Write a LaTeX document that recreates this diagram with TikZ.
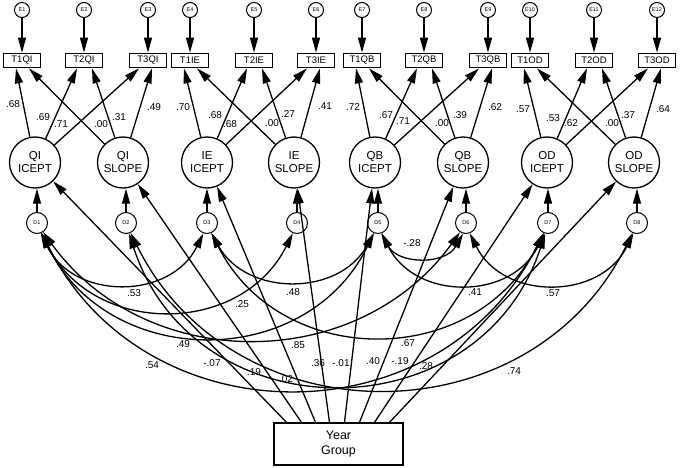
\documentclass[tikz,border=0pt]{standalone}
\usepackage{fontspec}
\setmainfont{Liberation Sans}
\usetikzlibrary{arrows.meta}
\begin{document}
\begin{tikzpicture}[x=1pt,y=1pt,
  err/.style={circle, draw, line width=1pt, minimum size=15pt, inner sep=0pt, font=\fontsize{5.5}{6}\selectfont},
  dist/.style={circle, draw, line width=1pt, minimum size=21pt, inner sep=0pt, font=\fontsize{5.5}{6}\selectfont},
  obs/.style={rectangle, draw, line width=1.3pt, minimum width=37pt, minimum height=14.5pt, inner sep=0pt, font=\fontsize{9.5}{10}\selectfont},
  lat/.style={circle, draw, line width=1.3pt, minimum size=51pt, inner sep=0pt, align=center, font=\fontsize{11.5}{13}\selectfont},
  yrbox/.style={rectangle, draw, line width=1.3pt, minimum width=129pt, minimum height=42pt, inner sep=0pt, align=center, font=\fontsize{12.5}{15}\selectfont},
  lbl/.style={inner sep=0pt, font=\fontsize{10}{12}\selectfont},
  tip/.tip={Triangle[length=15pt,width=8pt]},
  path/.style={-tip, line width=1.3pt},
  cov/.style={tip-tip, line width=1.3pt}]
\useasboundingbox (0,0) rectangle (680,-468);
% error terms
\foreach \n/\x in {1/22,2/84,3/148,4/190,5/254,6/316,7/362,8/424,9/488,10/530,11/594,12/657}
  \node[err] (e\n) at (\x,-10) {E\n};
% indicators
\node[obs] (t1qi) at (22,-60.5) {T1QI};
\node[obs] (t2qi) at (84,-60.5) {T2QI};
\node[obs] (t3qi) at (148,-60.5) {T3QI};
\node[obs] (t1ie) at (190,-60.5) {T1IE};
\node[obs] (t2ie) at (254,-60.5) {T2IE};
\node[obs] (t3ie) at (316,-60.5) {T3IE};
\node[obs] (t1qb) at (362,-60.5) {T1QB};
\node[obs] (t2qb) at (424,-60.5) {T2QB};
\node[obs] (t3qb) at (488,-60.5) {T3QB};
\node[obs] (t1od) at (530,-60.5) {T1OD};
\node[obs] (t2od) at (594,-60.5) {T2OD};
\node[obs] (t3od) at (657,-60.5) {T3OD};
\draw[path] (e1) -- (t1qi);
\draw[path] (e2) -- (t2qi);
\draw[path] (e3) -- (t3qi);
\draw[path] (e4) -- (t1ie);
\draw[path] (e5) -- (t2ie);
\draw[path] (e6) -- (t3ie);
\draw[path] (e7) -- (t1qb);
\draw[path] (e8) -- (t2qb);
\draw[path] (e9) -- (t3qb);
\draw[path] (e10) -- (t1od);
\draw[path] (e11) -- (t2od);
\draw[path] (e12) -- (t3od);
% latent growth factors
\node[lat] (qii) at (35,-162.5) {QI\\ICEPT};
\node[lat] (qis) at (123,-162.5) {QI\\SLOPE};
\node[lat] (iei) at (207,-162.5) {IE\\ICEPT};
\node[lat] (ies) at (294,-162.5) {IE\\SLOPE};
\node[lat] (qbi) at (375,-162.5) {QB\\ICEPT};
\node[lat] (qbs) at (463,-162.5) {QB\\SLOPE};
\node[lat] (odi) at (547,-162.5) {OD\\ICEPT};
\node[lat] (ods) at (634,-162.5) {OD\\SLOPE};
% loadings
\draw[path] (qii) -- ([xshift=-6pt]t1qi.south);
\draw[path] (qii) -- ([xshift=-7pt]t2qi.south);
\draw[path] (qii) -- ([xshift=-9pt]t3qi.south);
\draw[path] (qis) -- ([xshift=7pt]t1qi.south);
\draw[path] (qis) -- ([xshift=8pt]t2qi.south);
\draw[path] (qis) -- ([xshift=4pt]t3qi.south);
\draw[path] (iei) -- ([xshift=-6pt]t1ie.south);
\draw[path] (iei) -- ([xshift=-7pt]t2ie.south);
\draw[path] (iei) -- ([xshift=-9pt]t3ie.south);
\draw[path] (ies) -- ([xshift=7pt]t1ie.south);
\draw[path] (ies) -- ([xshift=8pt]t2ie.south);
\draw[path] (ies) -- ([xshift=4pt]t3ie.south);
\draw[path] (qbi) -- ([xshift=-6pt]t1qb.south);
\draw[path] (qbi) -- ([xshift=-7pt]t2qb.south);
\draw[path] (qbi) -- ([xshift=-9pt]t3qb.south);
\draw[path] (qbs) -- ([xshift=7pt]t1qb.south);
\draw[path] (qbs) -- ([xshift=8pt]t2qb.south);
\draw[path] (qbs) -- ([xshift=4pt]t3qb.south);
\draw[path] (odi) -- ([xshift=-6pt]t1od.south);
\draw[path] (odi) -- ([xshift=-7pt]t2od.south);
\draw[path] (odi) -- ([xshift=-9pt]t3od.south);
\draw[path] (ods) -- ([xshift=7pt]t1od.south);
\draw[path] (ods) -- ([xshift=8pt]t2od.south);
\draw[path] (ods) -- ([xshift=4pt]t3od.south);
% loading labels
\node[lbl] (l1) at (13,-104) {.68};
\node[lbl] (l2) at (43,-117) {.69};
\node[lbl] (l3) at (61,-124) {.71};
\node[lbl] (l4) at (101,-124) {.00};
\node[lbl] (l5) at (119,-117) {.31};
\node[lbl] (l6) at (154,-107) {.49};
\node[lbl] (l7) at (183,-107) {.70};
\node[lbl] (l8) at (215,-115) {.68};
\node[lbl] (l9) at (230,-124) {.68};
\node[lbl] (l10) at (272,-123) {.00};
\node[lbl] (l11) at (288,-114) {.27};
\node[lbl] (l12) at (325,-106) {.41};
\node[lbl] (l13) at (353,-107) {.72};
\node[lbl] (l14) at (386,-115) {.67};
\node[lbl] (l15) at (403,-121) {.71};
\node[lbl] (l16) at (442,-123) {.00};
\node[lbl] (l17) at (460,-115) {.39};
\node[lbl] (l18) at (495,-107) {.62};
\node[lbl] (l19) at (523,-109) {.57};
\node[lbl] (l20) at (553,-118) {.53};
\node[lbl] (l21) at (571,-123) {.62};
\node[lbl] (l22) at (612,-123) {.00};
\node[lbl] (l23) at (628,-115) {.37};
\node[lbl] (l24) at (663,-109) {.64};
% disturbances
\node[dist] (d1) at (37,-223) {D1};
\node[dist] (d2) at (126,-223) {D2};
\node[dist] (d3) at (207,-223) {D3};
\node[dist] (d4) at (297,-223) {D4};
\node[dist] (d5) at (378,-223) {D5};
\node[dist] (d6) at (466,-223) {D6};
\node[dist] (d7) at (548,-223) {D7};
\node[dist] (d8) at (637,-223) {D8};
\draw[path] (d1) -- (d1 |- qii.south);
\draw[path] (d2) -- (d2 |- qis.south);
\draw[path] (d3) -- (d3 |- iei.south);
\draw[path] (d4) -- (d4 |- ies.south);
\draw[path] (d5) -- (d5 |- qbi.south);
\draw[path] (d6) -- (d6 |- qbs.south);
\draw[path] (d7) -- (d7 |- odi.south);
\draw[path] (d8) -- (d8 |- ods.south);
% covariances
\draw[cov] (d1.-70.4) .. controls +(-63.7:74.7) and +(-116.3:74.7) .. (d3.-109.6);
\draw[cov] (d1.-67.6) .. controls +(-63.3:115.6) and +(-116.7:115.6) .. (d4.-112.4);
\draw[cov] (d1.-67.1) .. controls +(-63.9:153.6) and +(-116.1:153.6) .. (d5.-112.9);
\draw[cov] (d1.-56.4) .. controls +(-54.1:175.3) and +(-125.9:175.3) .. (d6.-123.6);
\draw[cov] (d1.-65.6) .. controls +(-63.5:231.9) and +(-116.5:231.9) .. (d7.-114.4);
\draw[cov] (d2.-74.7) .. controls +(-71.9:211.5) and +(-108.1:211.5) .. (d7.-105.3);
\draw[cov] (d2.-65.8) .. controls +(-63.6:231.1) and +(-116.4:231.1) .. (d8.-114.2);
\draw[cov] (d3.-67.4) .. controls +(-60.9:72.6) and +(-119.1:72.6) .. (d5.-112.6);
\draw[cov] (d3.-66.5) .. controls +(-63.3:153.3) and +(-116.7:153.3) .. (d7.-113.5);
\draw[cov] (d5.-73.9) .. controls +(-60.8:35.8) and +(-119.2:35.8) .. (d6.-106.1);
\draw[cov] (d5.-70.2) .. controls +(-63.6:75.2) and +(-116.4:75.2) .. (d7.-109.8);
\draw[cov] (d6.-70.2) .. controls +(-63.6:75.2) and +(-116.4:75.2) .. (d8.-109.8);
% year group
\node[yrbox] (yg) at (338.5,-444) {Year\\Group};
\draw[path] ([xshift=-52pt]yg.north) -- (qii);
\draw[path] ([xshift=-37pt]yg.north) -- (qis);
\draw[path] ([xshift=-23pt]yg.north) -- (iei);
\draw[path] ([xshift=-9pt]yg.north) -- (ies);
\draw[path] ([xshift=6pt]yg.north) -- (qbi);
\draw[path] ([xshift=21pt]yg.north) -- (qbs);
\draw[path] ([xshift=36pt]yg.north) -- (odi);
\draw[path] ([xshift=51pt]yg.north) -- (ods);
% lower labels
\node[lbl] (c1) at (134,-293) {.53};
\node[lbl] (c2) at (242,-304) {.25};
\node[lbl] (c3) at (293,-292) {.48};
\node[lbl] (c4) at (412,-243) {-.28};
\node[lbl] (c5) at (475,-292) {.41};
\node[lbl] (c6) at (553,-293) {.57};
\node[lbl] (c7) at (183,-344) {.49};
\node[lbl] (c8) at (298,-345) {.85};
\node[lbl] (c9) at (408,-343) {.67};
\node[lbl] (c10) at (152,-365) {.54};
\node[lbl] (c11) at (212,-363) {-.07};
\node[lbl] (c12) at (514,-371) {.74};
\node[lbl] (g1) at (254,-372) {.19};
\node[lbl] (g2) at (286,-379) {.02};
\node[lbl] (g3) at (318,-363) {.36};
\node[lbl] (g4) at (341,-363) {-.01};
\node[lbl] (g5) at (373,-361) {.40};
\node[lbl] (g6) at (400,-361) {-.19};
\node[lbl] (g7) at (426,-366) {.28};
\end{tikzpicture}
\end{document}
